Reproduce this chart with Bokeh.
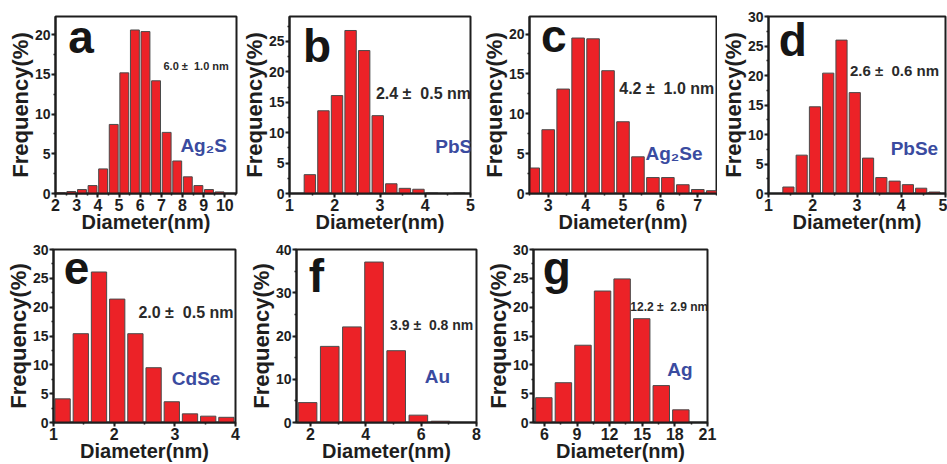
from bokeh.plotting import figure
from bokeh.layouts import row, column
from bokeh.models import Range1d, SingleIntervalTicker, Label
from bokeh.embed import file_html
from bokeh.resources import INLINE

FONT = "Liberation Sans"
BAR_FILL = "#ec2227"
BAR_LINE = "#4a4a4a"
BLUE = "#3a4ba0"
INK = "#1e1e1e"

# ---- data (diameter bin centres in nm, frequency in %) ----
a_diam = [2.25, 2.75, 3.25, 3.75, 4.25, 4.75, 5.25, 5.75, 6.25, 6.75, 7.25, 7.75, 8.25, 8.75, 9.25, 9.75]
a_freq = [0.1, 0.25, 0.5, 1.0, 3.1, 8.7, 15.2, 20.6, 20.4, 14.2, 7.7, 4.1, 2.1, 1.0, 0.5, 0.2]

b_diam = [1.45, 1.75, 2.05, 2.35, 2.65, 2.95, 3.25, 3.55, 3.85, 4.15, 4.45, 4.75]
b_freq = [3.1, 13.6, 16.1, 26.8, 23.5, 12.8, 1.6, 0.85, 0.7, 0.1, 0.0, 0.1]

c_diam = [2.6, 3.0, 3.4, 3.8, 4.2, 4.6, 5.0, 5.4, 5.8, 6.2, 6.6, 7.0, 7.4]
c_freq = [3.2, 8.0, 13.1, 19.5, 19.4, 15.4, 9.0, 4.6, 2.0, 2.0, 1.1, 0.5, 0.35]

d_diam = [1.45, 1.75, 2.05, 2.35, 2.65, 2.95, 3.25, 3.55, 3.85, 4.15, 4.45, 4.75]
d_freq = [1.1, 6.5, 14.7, 20.4, 26.0, 17.1, 6.0, 2.7, 2.1, 1.5, 0.9, 0.25]

e_diam = [1.15, 1.45, 1.75, 2.05, 2.35, 2.65, 2.95, 3.25, 3.55, 3.85]
e_freq = [4.1, 15.4, 26.1, 21.4, 15.4, 9.5, 3.6, 1.5, 1.1, 0.9]

f_diam = [1.9, 2.7, 3.5, 4.3, 5.1, 5.9, 6.7]
f_freq = [4.6, 17.6, 22.1, 37.1, 16.6, 1.7, 0.3]

g_diam = [5.95, 7.75, 9.55, 11.35, 13.15, 14.95, 16.75, 18.55]
g_freq = [4.3, 6.9, 13.4, 22.8, 24.9, 18.0, 6.4, 2.2]

bin_widths = {"a": 0.5, "b": 0.3, "c": 0.4, "d": 0.3, "e": 0.3, "f": 0.8, "g": 1.8}
notes = {"a": "6.0 \u00b1\u00a0 1.0 nm", "b": "2.4 \u00b1\u00a0 0.5 nm", "c": "4.2 \u00b1\u00a0 1.0 nm",
         "d": "2.6 \u00b1\u00a0 0.6 nm", "e": "2.0 \u00b1\u00a0 0.5 nm", "f": "3.9 \u00b1\u00a0 0.8 nm",
         "g": "12.2 \u00b1\u00a0 2.9 nm"}
materials = {"a": "Ag\u2082S", "b": "PbS", "c": "Ag\u2082Se", "d": "PbSe", "e": "CdSe", "f": "Au", "g": "Ag"}

# layout / styling per panel
panels = {
    "a": dict(d=a_diam, f=a_freq, xr=(2, 10.55), yr=(0, 22.3), xs=1, ys=5,
              W=238, H=242, bl=55, br=2, bt=16, bb=44,
              let=(2.6, 19.75), note=(7.1, 16.1), ns=11, mat=(7.9, 6.05)),
    "b": dict(d=b_diam, f=b_freq, xr=(1, 5), yr=(0, 29.1), xs=1, ys=5,
              W=240, H=242, bl=47, br=8, bt=15, bb=46,
              let=(1.3, 24.2), note=(2.91, 16.5), ns=16, mat=(4.22, 7.7)),
    "c": dict(d=c_diam, f=c_freq, xr=(2.5, 7.5), yr=(0, 22.2), xs=1, ys=5,
              W=239, H=242, bl=50, br=1, bt=13, bb=44,
              let=(2.81, 19.8), note=(4.9, 13.2), ns=16, mat=(5.6, 5.0)),
    "d": dict(d=d_diam, f=d_freq, xr=(1, 5), yr=(0, 30), xs=1, ys=5,
              W=230, H=242, bl=44, br=2, bt=16, bb=49,
              let=(1.23, 26.1), note=(2.84, 20.9), ns=15, mat=(3.76, 7.6)),
    "e": dict(d=e_diam, f=e_freq, xr=(1, 4), yr=(0, 30), xs=1, ys=5,
              W=245, H=222, bl=53, br=10, bt=6, bb=41,
              let=(1.17, 26.8), note=(2.40, 19.1), ns=16, mat=(2.95, 7.7)),
    "f": dict(d=f_diam, f=f_freq, xr=(1.5, 8), yr=(0, 40), xs=2, ys=10,
              W=237, H=222, bl=47, br=6, bt=7, bb=37,
              let=(1.94, 33.9), note=(4.88, 22.6), ns=14, mat=(6.13, 10.6)),
    "g": dict(d=g_diam, f=g_freq, xr=(5, 21), yr=(0, 30), xs=3, ys=5,
              W=238, H=222, bl=46, br=13, bt=6, bb=40,
              let=(5.85, 26.8), note=(13.9, 20.1), ns=12, mat=(17.3, 9.2)),
}


def style_axis(ax, tick_size, label_size, label_standoff):
    ax.axis_line_width = 2
    ax.axis_line_color = INK
    ax.major_tick_line_width = 2
    ax.major_tick_line_color = INK
    ax.minor_tick_line_width = 1.5
    ax.minor_tick_line_color = INK
    ax.major_tick_in = 0
    ax.major_tick_out = 4
    ax.minor_tick_in = 0
    ax.minor_tick_out = 2
    ax.major_label_text_font = FONT
    ax.major_label_text_font_style = "bold"
    ax.major_label_text_font_size = tick_size
    ax.major_label_text_color = INK
    ax.major_label_standoff = 1
    ax.axis_label_text_font = FONT
    ax.axis_label_text_font_style = "bold"
    ax.axis_label_text_font_size = label_size
    ax.axis_label_text_color = INK
    ax.axis_label_standoff = label_standoff


def make_panel(key):
    c = panels[key]
    p = figure(width=c["W"], height=c["H"], output_backend="svg", toolbar_location=None,
               x_range=Range1d(*c["xr"]), y_range=Range1d(*c["yr"]),
               min_border_left=c["bl"], min_border_right=c["br"],
               min_border_top=c["bt"], min_border_bottom=c["bb"])
    p.background_fill_color = "white"
    p.border_fill_color = "white"
    p.outline_line_color = INK
    p.outline_line_width = 2
    p.grid.visible = False

    p.vbar(x=c["d"], top=c["f"], width=bin_widths[key] * 0.84, bottom=0,
           fill_color=BAR_FILL, line_color=BAR_LINE, line_width=1)

    p.xaxis.ticker = SingleIntervalTicker(interval=c["xs"], num_minor_ticks=2)
    p.yaxis.ticker = SingleIntervalTicker(interval=c["ys"], num_minor_ticks=2)
    style_axis(p.xaxis[0], "16px", "20px", -3)
    style_axis(p.yaxis[0], "14px", "22px", -1)
    p.xaxis.axis_label = "Diameter(nm)"
    p.yaxis.axis_label = "Frequency(%)"

    lx, ly = c["let"]
    p.add_layout(Label(x=lx, y=ly, text=key, text_font=FONT, text_font_style="bold",
                       text_font_size="46px", text_color="#151515", text_baseline="middle"))
    nx, ny = c["note"]
    p.add_layout(Label(x=nx, y=ny, text=notes[key], text_font=FONT, text_font_style="bold",
                       text_font_size=f"{c['ns']}px", text_color="#2a2a2a", text_baseline="middle"))
    mx, my = c["mat"]
    p.add_layout(Label(x=mx, y=my, text=materials[key], text_font=FONT, text_font_style="bold",
                       text_font_size="19px", text_color=BLUE, text_baseline="middle"))
    return p


top = row(*[make_panel(k) for k in "abcd"], spacing=0)
bottom = row(*[make_panel(k) for k in "efg"], spacing=0)
layout = column(top, bottom, spacing=0)

open("out.html", "w").write(file_html(layout, INLINE))
